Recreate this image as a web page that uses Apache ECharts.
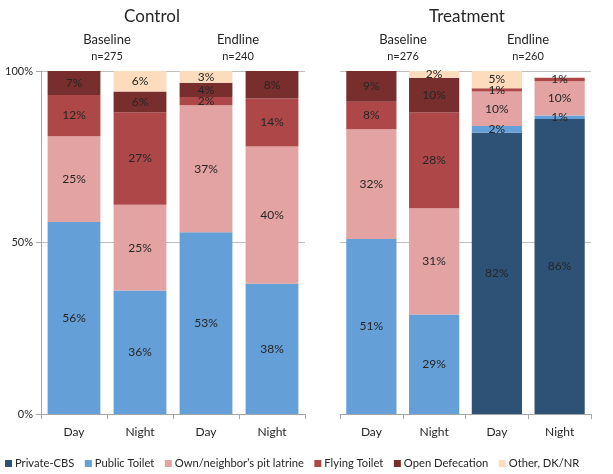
<!DOCTYPE html>
<html><head><meta charset="utf-8">
<script src="https://cdn.jsdelivr.net/npm/echarts@6/dist/echarts.min.js"></script>
<style>html,body{margin:0;padding:0;background:#fff}#c{width:613px;height:474px}</style>
</head><body><div id="c"></div>
<script>
const categories = ['Day', 'Night', 'Day', 'Night'];
const seriesNames = ['Private-CBS', 'Public Toilet', 'Own/neighbor\u2019s pit latrine', 'Flying Toilet', 'Open Defecation', 'Other, DK/NR'];
const colors = ['#2e5275', '#659fd7', '#e2a3a2', '#ae4848', '#782e2c', '#fddcbd'];
// Control: Baseline Day, Baseline Night, Endline Day, Endline Night
const privateControl = [null, null, null, null];
const publicControl = [56, 36, 53, 38];
const pitControl = [25, 25, 37, 40];
const flyingControl = [12, 27, 2.4, 14];
const openDefControl = [7, 6, 4.2, 8];
const otherControl = [null, 6, 3.4, null];
// Treatment: Baseline Day, Baseline Night, Endline Day, Endline Night
const privateTreat = [null, null, 82, 86];
const publicTreat = [51, 29, 2, 1];
const pitTreat = [32, 31, 10, 10];
const flyingTreat = [8, 28, 1, 1];
const openDefTreat = [9, 10, null, null];
const otherTreat = [null, 2, 5, null];
const yTicks = ['0%', '50%', '100%'];

const controlData = [privateControl, publicControl, pitControl, flyingControl, openDefControl, otherControl];
const treatData = [privateTreat, publicTreat, pitTreat, flyingTreat, openDefTreat, otherTreat];

const FONT = 'Lato, "Open Sans", sans-serif';
const chart = echarts.init(document.getElementById('c'), null, {renderer: 'canvas'});

function mkSeries(idx, gridIdx, data) {
  return {
    name: seriesNames[idx], type: 'bar', stack: 'g' + gridIdx,
    xAxisIndex: gridIdx, yAxisIndex: gridIdx,
    barCategoryGap: '20%',
    itemStyle: {color: colors[idx]},
    label: {show: true, position: 'inside', color: '#262626', fontSize: 12, fontFamily: FONT,
      formatter: p => Math.round(p.value) + '%'},
    data: data
  };
}
const series = [];
for (let i = 0; i < 6; i++) series.push(mkSeries(i, 0, controlData[i]));
for (let i = 0; i < 6; i++) series.push(mkSeries(i, 1, treatData[i]));

const axisCol = '#a6a6a6';
function mkX(gi) {
  return {type: 'category', gridIndex: gi, data: categories,
    axisLine: {lineStyle: {color: axisCol}}, axisTick: {show: true, length: 5, lineStyle: {color: axisCol}},
    axisLabel: {color: '#262626', fontSize: 12, fontFamily: FONT, margin: 12}};
}
function mkY(gi, showLab) {
  return {type: 'value', gridIndex: gi, min: 0, max: 100, interval: 50,
    axisLine: {show: showLab, lineStyle: {color: axisCol}},
    axisTick: {show: showLab, length: 5, lineStyle: {color: axisCol}},
    splitLine: {show: true, lineStyle: {color: '#bfbfbf'}},
    axisLabel: {show: showLab, color: '#262626', fontSize: 11, fontFamily: FONT, margin: 8,
      formatter: v => yTicks[v / 50]}};
}

function t(x, y, s, size) {
  return {type: 'text', x: x, y: y, style: {text: s, fill: '#262626', font: size + 'px ' + FONT, align: 'center', verticalAlign: 'middle'}};
}

chart.setOption({
  animation: false,
  grid: [
    {left: 41, top: 71, width: 264, height: 343},
    {left: 340, top: 71, width: 251, height: 343}
  ],
  xAxis: [mkX(0), mkX(1)],
  yAxis: [mkY(0, true), mkY(1, false)],
  legend: {top: 458, left: 5, width: 608, itemWidth: 7, itemHeight: 7, itemGap: 10.5, icon: 'rect', padding: 0,
    textStyle: {color: '#262626', fontSize: 11.2, fontFamily: FONT, padding: [0, 0, 0, -2]},
    data: seriesNames},
  graphic: [
    t(152, 17, 'Control', 17), t(467, 17, 'Treatment', 17),
    t(107, 40, 'Baseline', 13), t(107, 56, 'n=275', 11),
    t(238, 40, 'Endline', 13), t(238, 56, 'n=240', 11),
    t(403, 40, 'Baseline', 13), t(403, 56, 'n=276', 11),
    t(528, 40, 'Endline', 13), t(528, 56, 'n=260', 11)
  ],
  series: series
});
</script></body></html>
